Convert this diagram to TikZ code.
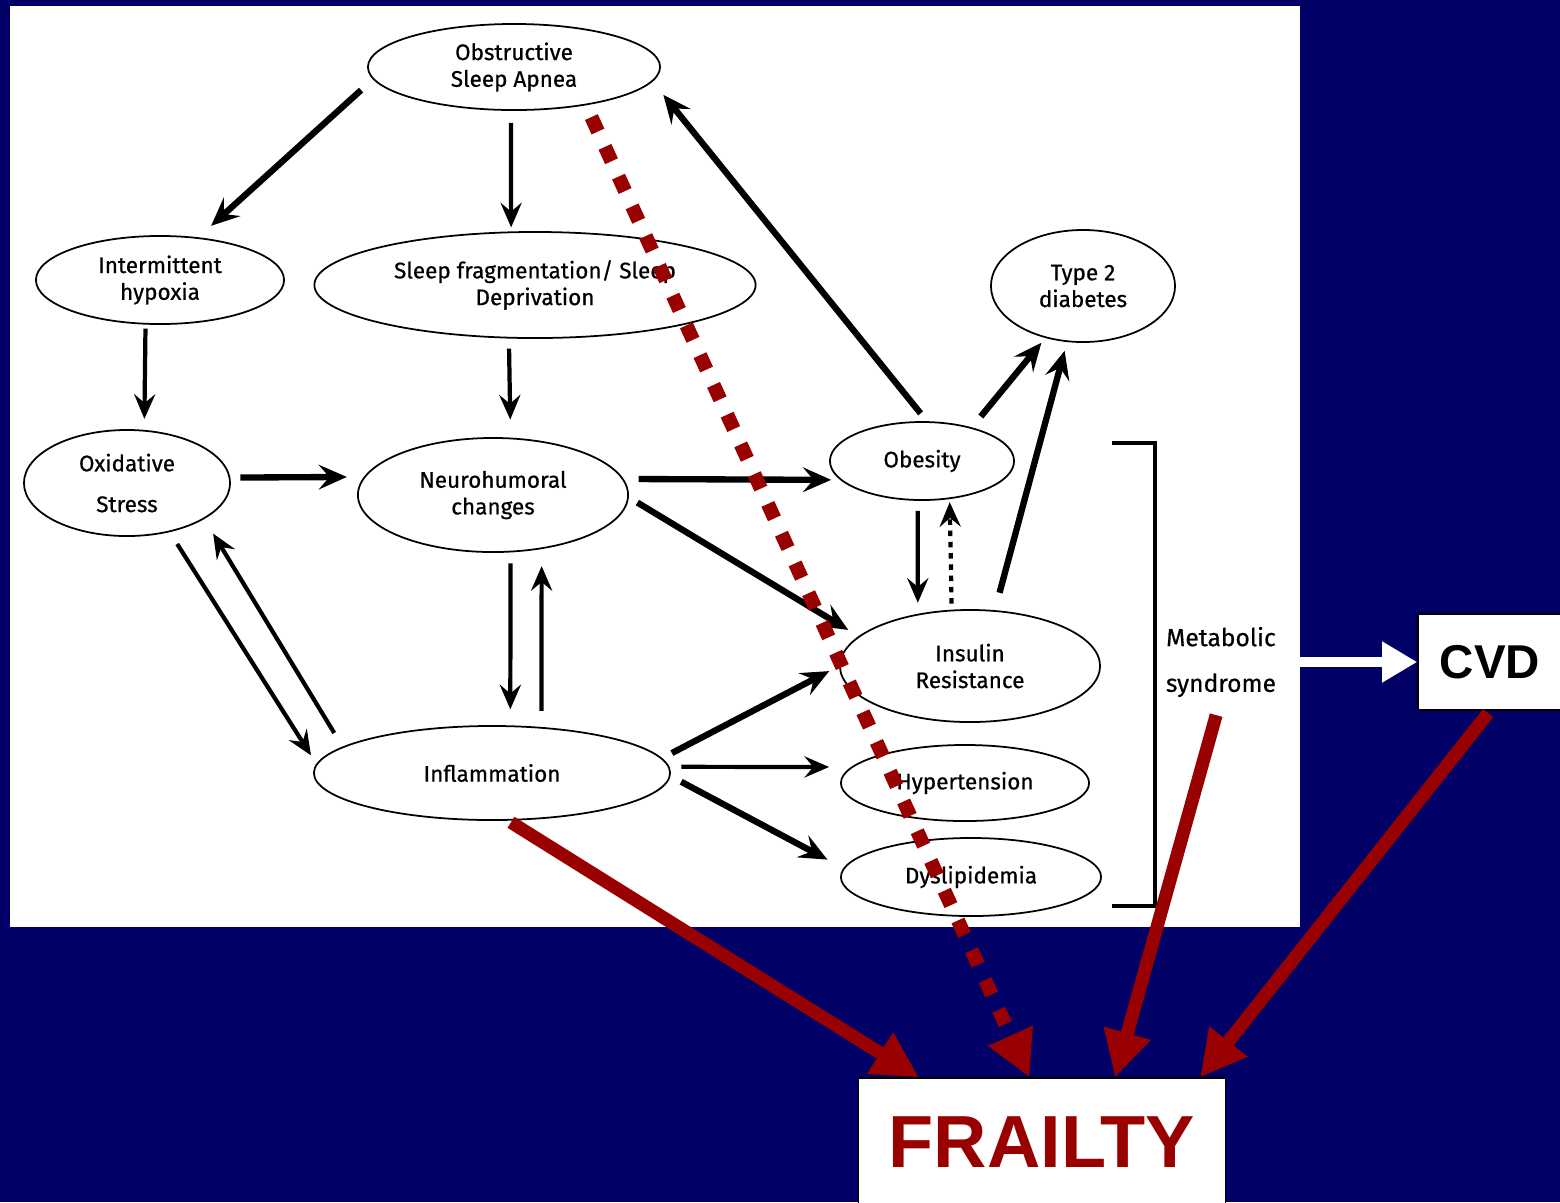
\documentclass[tikz,border=0pt]{standalone}
\usepackage{fontspec}
\setmainfont{Fira Sans}[FakeBold=0.6]
\setsansfont{Liberation Sans}
\usetikzlibrary{shapes.geometric,arrows.meta,calc}
\definecolor{navy}{HTML}{000066}
\definecolor{darkred}{HTML}{990000}

\begin{document}
\begin{tikzpicture}[x=0.01cm,y=-0.01cm,
    ell/.style={draw,ellipse,line width=0.5pt,inner sep=0pt,align=center,
      font=\fontsize{6.4}{7.6}\selectfont},
    arr/.style={line width=1.2pt,-{Stealth[length=7pt,width=6pt,inset=2.5pt]}},
    thk/.style={arr,line width=1.8pt,-{Stealth[length=8pt,width=7pt,inset=3pt]}},
    frail/.style={draw=darkred,line width=3.7pt,-{Triangle[length=13pt,width=13pt]}},
    box/.style={draw,fill=white,line width=0.4pt,inner sep=0pt}]
  \useasboundingbox (0,0) rectangle (1560,1202);
  \fill[navy] (0,0) rectangle (1560,1202); \fill[white] (10,6) rectangle (1300,927);

  \node[ell,minimum width=2.92cm,minimum height=0.86cm] (osa) at (514,67) {Obstructive\\Sleep Apnea};
  \node[ell,minimum width=2.48cm,minimum height=0.88cm] (ih) at (160,280) {Intermittent\\hypoxia};
  \node[ell,minimum width=4.41cm,minimum height=1.06cm] (sf) at (535,285) {Sleep fragmentation/ Sleep\\Deprivation};
  \node[ell,minimum width=1.84cm,minimum height=1.12cm] (t2d) at (1083,286) {Type 2\\diabetes};
  \node[ell,minimum width=2.06cm,minimum height=1.06cm] (os) at (127,483) {Oxidative\\[4pt]Stress};
  \node[ell,minimum width=2.70cm,minimum height=1.14cm] (nh) at (493,495) {Neurohumoral\\changes};
  \node[ell,minimum width=1.84cm,minimum height=0.78cm] (ob) at (922,461) {Obesity};
  \node[ell,minimum width=2.60cm,minimum height=1.12cm] (ir) at (970,666) {Insulin\\Resistance};
  \node[ell,minimum width=3.56cm,minimum height=0.94cm] (infl) at (492,773) {Inflammation};
  \node[ell,minimum width=2.48cm,minimum height=0.76cm] (ht) at (965,783) {Hypertension};
  \node[ell,minimum width=2.60cm,minimum height=0.78cm] (dys) at (971,877) {Dyslipidemia};
  \node[align=center,inner sep=0pt,font=\fontsize{7}{13}\selectfont] (metsyn) at (1221,662) {Metabolic\\syndrome};
  \node[box,minimum width=1.44cm,minimum height=0.96cm,font=\sffamily\bfseries\fontsize{13.5}{16}\selectfont] (cvd) at (1490,662) {CVD};
  \node[box,text=darkred,minimum width=3.67cm,minimum height=1.28cm,font=\sffamily\bfseries\fontsize{21}{24}\selectfont] (frailty) at (1042,1142) {FRAILTY};

  \draw[line width=1.4pt] (1112,443) -- (1155,443) -- (1155,906) -- (1112,906);

  \draw[thk,shorten <=1.6mm,shorten >=1.7mm] (osa.185) -- (ih.48);
  \draw[arr,shorten <=1.2mm,shorten >=0.4mm] (osa.266) -- (sf.114);
  \draw[thk,shorten <=1mm,shorten >=1.7mm] (ob.83) -- (osa.354);
  \draw[arr,shorten <=0.4mm,shorten >=1.1mm] (ih.252) -- (os.72);
  \draw[arr,shorten <=1mm,shorten >=1.8mm] (sf.244) -- (nh.73);
  \draw[thk,shorten <=1mm,shorten >=1.7mm] (os.3) -- (nh.172);
  \draw[thk,shorten <=1.5mm,shorten >=0.9mm] (nh.7) -- (ob.193);
  \draw[thk,shorten <=1mm,shorten >=1.2mm] (nh.359) -- (ir.165);
  \draw[thk,shorten <=1.4mm,shorten >=0.6mm] (ob.34) -- (t2d.234);
  \draw[thk,shorten <=1.8mm,shorten >=0.9mm] (ir.66) -- (t2d.254);
  \draw[arr,shorten <=1mm,shorten >=1.1mm] (ob.264) -- (ir.135);
  \draw[arr,dash pattern=on 1.6pt off 1.6pt,shorten <=0.6mm,shorten >=0.3mm] (ir.108) -- (ob.306);
  \draw[arr,shorten <=1.4mm,shorten >=1mm] (os.311) -- (infl.177);
  \draw[arr,shorten <=1.6mm,shorten >=1.7mm] (infl.170) -- (os.335);
  \draw[arr,shorten <=1.1mm,shorten >=1.6mm] (nh.287) -- (infl.69);
  \draw[arr,shorten <=1.6mm,shorten >=1.7mm] (infl.43) -- (nh.312);
  \draw[thk,shorten <=1.1mm,shorten >=1.1mm] (infl.5) -- (ir.180);
  \draw[arr,shorten <=1.2mm,shorten >=2.2mm] (infl.2) -- (ht.172);
  \draw[thk,shorten <=1.2mm,shorten >=1.8mm] (infl.359) -- (dys.176);

  \draw[line width=2.8pt,white,-{Triangle[length=10pt,width=11pt]},shorten <=2.3mm] (metsyn.east) -- (cvd.west);
  \draw[frail,shorten <=0.3mm] (infl.289) -- ($(frailty.north west)!.166!(frailty.north east)$);
  \draw[frail,line width=4pt,dash pattern=on 4.5pt off 4.8pt,shorten <=1.3mm] (osa.332) -- ($(frailty.north west)!.466!(frailty.north east)$);
  \draw[frail,shorten <=1.8mm] (metsyn.south) -- ($(frailty.north west)!.698!(frailty.north east)$);
  \draw[frail,shorten <=0.3mm] (cvd.south) -- ($(frailty.north west)!.929!(frailty.north east)$);
\end{tikzpicture}
\end{document}
